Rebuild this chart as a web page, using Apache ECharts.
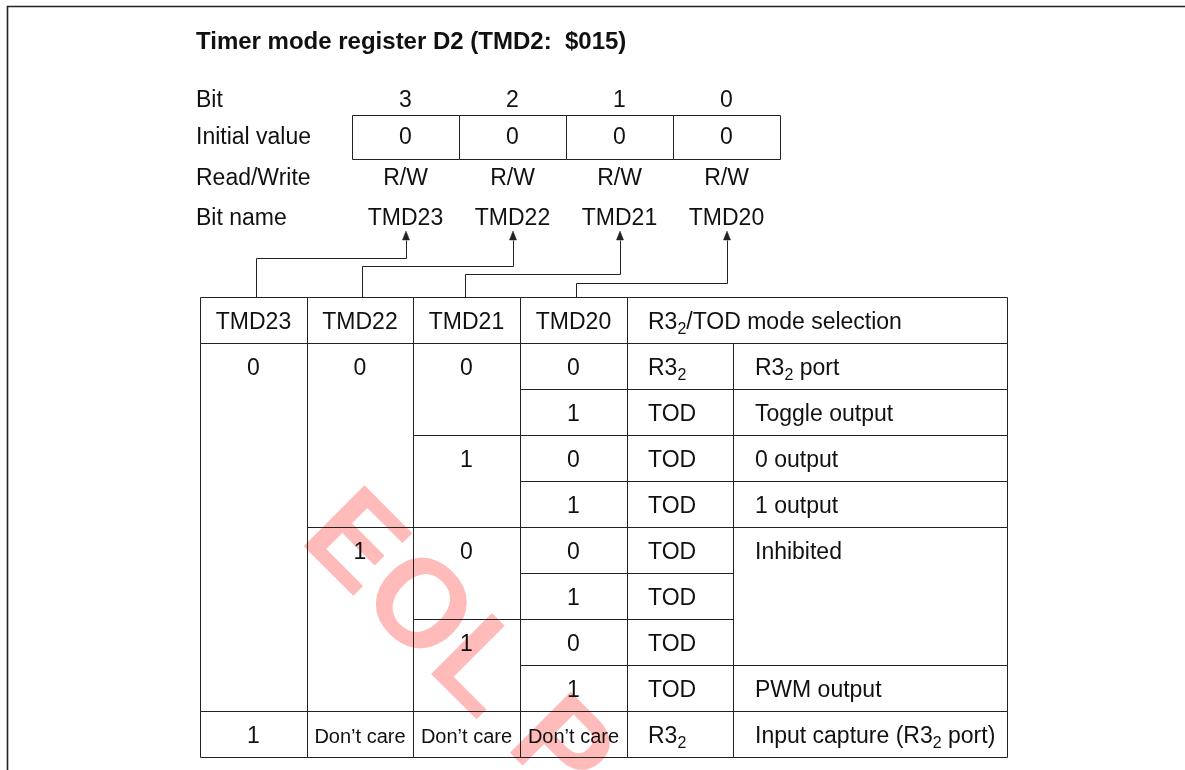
<!DOCTYPE html>
<html><head><meta charset="utf-8">
<script src="https://cdn.jsdelivr.net/npm/echarts@6/dist/echarts.min.js"></script>
<style>html,body{margin:0;padding:0;background:#fff}#c{width:1185px;height:770px}</style>
</head><body><div id="c"></div>
<script>
// ---------------- data ----------------
const title = 'Timer mode register D2 (TMD2:  $015)';
const regRowLabels = ['Bit', 'Initial value', 'Read/Write', 'Bit name'];
const bitNumbers = ['3', '2', '1', '0'];
const initialValues = ['0', '0', '0', '0'];
const readWrite = ['R/W', 'R/W', 'R/W', 'R/W'];
const bitNames = ['TMD23', 'TMD22', 'TMD21', 'TMD20'];
const tableHeaders = ['TMD23', 'TMD22', 'TMD21', 'TMD20', 'R3{s|2}/TOD mode selection'];
// each entry: [text, number of rows spanned]
const colTMD23 = [['0', 8], ['1', 1]];
const colTMD22 = [['0', 4], ['1', 4], ['Don’t care', 1]];
const colTMD21 = [['0', 2], ['1', 2], ['0', 2], ['1', 2], ['Don’t care', 1]];
const colTMD20 = [['0', 1], ['1', 1], ['0', 1], ['1', 1], ['0', 1], ['1', 1], ['0', 1], ['1', 1], ['Don’t care', 1]];
const colPin = [['R3{s|2}', 1], ['TOD', 1], ['TOD', 1], ['TOD', 1], ['TOD', 1], ['TOD', 1], ['TOD', 1], ['TOD', 1], ['R3{s|2}', 1]];
const colMode = [['R3{s|2} port', 1], ['Toggle output', 1], ['0 output', 1], ['1 output', 1], ['Inhibited', 3], ['PWM output', 1], ['Input capture (R3{s|2} port)', 1]];
const watermark = 'EOL P';

// ---------------- layout (page units) ----------------
const LAYOUT = {
  frame: [[6.5, 770], [6.5, 5.5], [1185, 5.5]],
  titleX: 196, titleY: 30,
  labelX: 196, regRowY: [101, 138, 179, 219],
  regEdges: [352, 459, 566, 673, 780], regBoxY: [115, 159],
  arrowTip: 231, arrowLen: 9, arrowHalf: 3.5,
  elbowY: [258, 266, 274, 283], dropX: [256, 362, 465, 576],
  colEdges: [200, 307, 413, 520, 627, 733, 1007],
  colPad: [null, null, null, null, 21, 22],
  tableTop: 297, rowH: 46, textDy: 3,
  wmPos: [322, 516], wmRot: -Math.PI / 4
};
const FONT = '"Liberation Sans", Arial, Helvetica, sans-serif';
const FS = 23, SMALL_FS = 20, SUB_FS = 16;
const INK = '#111', LINE = '#222';

// ---------------- build shapes ----------------
const shapes = [];
function txt(x, y, text, align, fs, bold) { shapes.push({ kind: 'text', p: [x, y], text, align, fs: fs || FS, bold }); }
function poly(points, lw) { shapes.push({ kind: 'poly', pts: points, lw: lw || 1 }); }
function rect(x0, y0, x1, y1) { shapes.push({ kind: 'rect', a: [x0, y0], b: [x1, y1] }); }
function tri(points) { shapes.push({ kind: 'tri', pts: points }); }

// frame
poly(LAYOUT.frame, 1.6);
// register rows
regRowLabels.forEach((t, i) => txt(LAYOUT.labelX, LAYOUT.regRowY[i], t, 'left'));
const E = LAYOUT.regEdges;
const cx = i => (E[i] + E[i + 1]) / 2;
bitNumbers.forEach((t, i) => txt(cx(i), LAYOUT.regRowY[0], t, 'center'));
initialValues.forEach((t, i) => { rect(E[i], LAYOUT.regBoxY[0], E[i + 1], LAYOUT.regBoxY[1]); txt(cx(i), LAYOUT.regRowY[1], t, 'center'); });
readWrite.forEach((t, i) => txt(cx(i), LAYOUT.regRowY[2], t, 'center'));
bitNames.forEach((t, i) => {
  txt(cx(i), LAYOUT.regRowY[3], t, 'center');
  const x = cx(i), tip = LAYOUT.arrowTip, base = tip + LAYOUT.arrowLen, h = LAYOUT.arrowHalf;
  tri([[x, tip], [x - h, base], [x + h, base]]);
  poly([[x, base], [x, LAYOUT.elbowY[i]], [LAYOUT.dropX[i], LAYOUT.elbowY[i]], [LAYOUT.dropX[i], LAYOUT.tableTop]]);
});
// table
const C = LAYOUT.colEdges;
const rowY = r => LAYOUT.tableTop + r * LAYOUT.rowH;
function cell(c0, c1, r0, r1, text) {
  rect(C[c0], rowY(r0), C[c1], rowY(r1));
  const pad = LAYOUT.colPad[c0];
  const y = rowY(r0) + LAYOUT.rowH / 2 + LAYOUT.textDy;
  const small = text.indexOf('Don') === 0;
  if (pad != null) txt(C[c0] + pad, y, text, 'left');
  else txt((C[c0] + C[c1]) / 2, y, text, 'center', small ? SMALL_FS : FS);
}
tableHeaders.forEach((t, i) => cell(i, i === 4 ? 6 : i + 1, 0, 1, t));
[colTMD23, colTMD22, colTMD21, colTMD20, colPin, colMode].forEach((col, ci) => {
  let r = 1;
  col.forEach(([t, span]) => { cell(ci, ci + 1, r, r + span, t); r += span; });
});

const crisp = v => Math.round(v) + 0.5;

function renderShape(params, api) {
  const s = shapes[params.dataIndex];
  if (s.kind === 'text') {
    const p = api.coord(s.p);
    return {
      type: 'text', x: p[0], y: p[1], silent: true,
      style: {
        text: s.text, fill: INK, align: s.align, verticalAlign: 'middle',
        font: (s.bold ? 'bold ' : '') + s.fs + 'px ' + FONT,
        lineHeight: 30,
        rich: { s: { fontSize: SUB_FS, fontFamily: FONT, fill: INK, lineHeight: SUB_FS, verticalAlign: 'bottom' } }
      }
    };
  }
  if (s.kind === 'rect') {
    const a = api.coord(s.a), b = api.coord(s.b);
    return {
      type: 'rect', silent: true,
      shape: { x: crisp(a[0]), y: crisp(a[1]), width: Math.round(b[0]) - Math.round(a[0]), height: Math.round(b[1]) - Math.round(a[1]) },
      style: { fill: null, stroke: LINE, lineWidth: 1 }
    };
  }
  if (s.kind === 'poly') {
    const pts = s.pts.map(q => { const c = api.coord(q); return [crisp(c[0]), crisp(c[1])]; });
    return { type: 'polyline', silent: true, shape: { points: pts }, style: { fill: null, stroke: LINE, lineWidth: s.lw } };
  }
  if (s.kind === 'tri') {
    const pts = s.pts.map(q => { const c = api.coord(q); return [c[0] + 0.5, c[1]]; });
    return { type: 'polygon', silent: true, shape: { points: pts }, style: { fill: LINE, stroke: LINE, lineWidth: 0.5 } };
  }
}

const chart = echarts.init(document.getElementById('c'), null, { renderer: 'canvas' });
chart.setOption({
  animation: false,
  backgroundColor: '#fff',
  title: {
    text: title, left: LAYOUT.titleX, top: LAYOUT.titleY, padding: 0,
    textStyle: { fontFamily: FONT, fontSize: 24, fontWeight: 'bold', color: INK }
  },
  grid: { left: 0, right: 0, top: 0, bottom: 0, containLabel: false },
  xAxis: { type: 'value', min: 0, max: 1185, show: false },
  yAxis: { type: 'value', min: 0, max: 770, inverse: true, show: false },
  series: [
    {
      type: 'custom', name: 'watermark', z: 1, silent: true, clip: false,
      data: [[LAYOUT.wmPos[0], LAYOUT.wmPos[1]]],
      renderItem: (params, api) => {
        const p = api.coord([api.value(0), api.value(1)]);
        return {
          type: 'text', x: p[0], y: p[1], rotation: LAYOUT.wmRot,
          style: { text: watermark, fill: 'rgba(255,40,40,0.32)', font: 'bold 125px ' + FONT, align: 'left', verticalAlign: 'middle' }
        };
      }
    },
    {
      type: 'custom', name: 'register', z: 3, silent: true, clip: false,
      data: shapes.map((s, i) => [i, 0]),
      renderItem: renderShape
    }
  ]
});
</script></body></html>
